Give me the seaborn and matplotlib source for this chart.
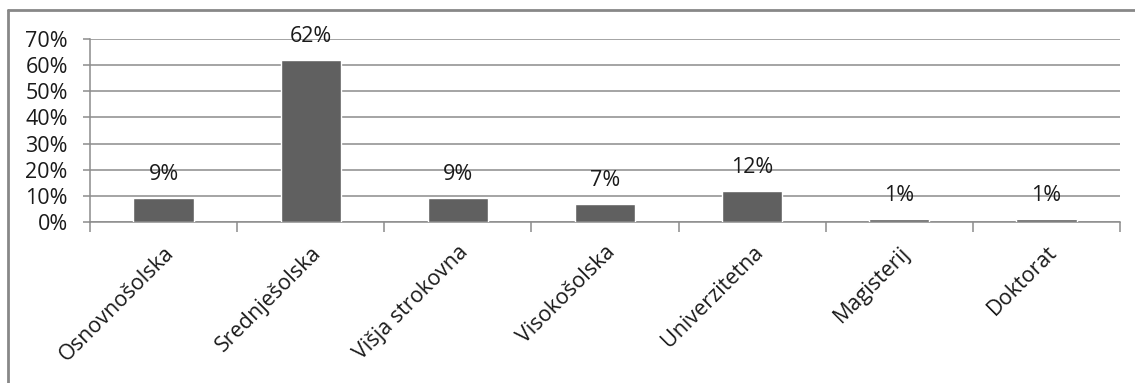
import matplotlib
matplotlib.use("Agg")
import matplotlib.pyplot as plt
import matplotlib.lines as mlines
import seaborn as sns
import pandas as pd
from matplotlib.ticker import PercentFormatter, FixedLocator

categories = ["Osnovnošolska", "Srednješolska", "Višja strokovna", "Visokošolska",
              "Univerzitetna", "Magisterij", "Doktorat"]
shares = [9, 62, 9, 7, 12, 1, 1]
y_ticks = [0, 10, 20, 30, 40, 50, 60, 70]

sns.set_theme(style="white")
plt.rcParams["font.family"] = ["Open Sans", "DejaVu Sans"]

df = pd.DataFrame({"stopnja": categories, "delez": shares})

fig = plt.figure(figsize=(11.35, 3.83), dpi=100)
ax = fig.add_axes([90 / 1135, 1 - 222 / 383, (1120 - 90) / 1135, (222 - 39) / 383])

sns.barplot(data=df, x="stopnja", y="delez", color="#606060", saturation=1,
            width=0.41, ax=ax, zorder=3)

ax.set_ylim(0, 70)
ax.set_xlim(-0.5, len(categories) - 0.5)
ax.set_yticks(y_ticks)
ax.yaxis.set_major_formatter(PercentFormatter(decimals=0))
ax.grid(axis="y", color="#8c8c8c", linewidth=1.1, zorder=0)
ax.set_axisbelow(True)
ax.set_xlabel("")
ax.set_ylabel("")

for s in ["top", "right"]:
    ax.spines[s].set_visible(False)
for s in ["left", "bottom"]:
    ax.spines[s].set_color("#8c8c8c")
    ax.spines[s].set_linewidth(1.1)

# category labels at bar centres, tick marks at category boundaries
ax.set_xticks(range(len(categories)))
ax.set_xticklabels(categories, rotation=45, ha="right", rotation_mode="anchor",
                   fontsize=15.5, color="#1a1a1a")
ax.tick_params(axis="x", length=0, pad=14.5)
ax.xaxis.set_minor_locator(FixedLocator([i - 0.5 for i in range(len(categories) + 1)]))
ax.tick_params(axis="x", which="minor", length=7, width=1.1, color="#8c8c8c", direction="out")
ax.tick_params(axis="y", length=5, width=1.1, color="#8c8c8c", direction="out",
               labelsize=15.5, labelcolor="#1a1a1a", pad=11)
ax.tick_params(axis="y", left=True)
ax.tick_params(axis="x", which="minor", bottom=True)

for i, v in enumerate(shares):
    ax.annotate(f"{v}%", xy=(i, v), xytext=(0, 13), textcoords="offset points",
                ha="center", va="baseline", fontsize=15.5, color="#1a1a1a", zorder=4)

# chart frame, visible on the top and left edges
fig.add_artist(mlines.Line2D([8 / 1135, 8 / 1135], [0, 1 - 10 / 383],
                             transform=fig.transFigure, color="#888888", linewidth=2))
fig.add_artist(mlines.Line2D([8 / 1135, 1], [1 - 10 / 383, 1 - 10 / 383],
                             transform=fig.transFigure, color="#888888", linewidth=2))

fig.savefig("out.png", dpi=100)
